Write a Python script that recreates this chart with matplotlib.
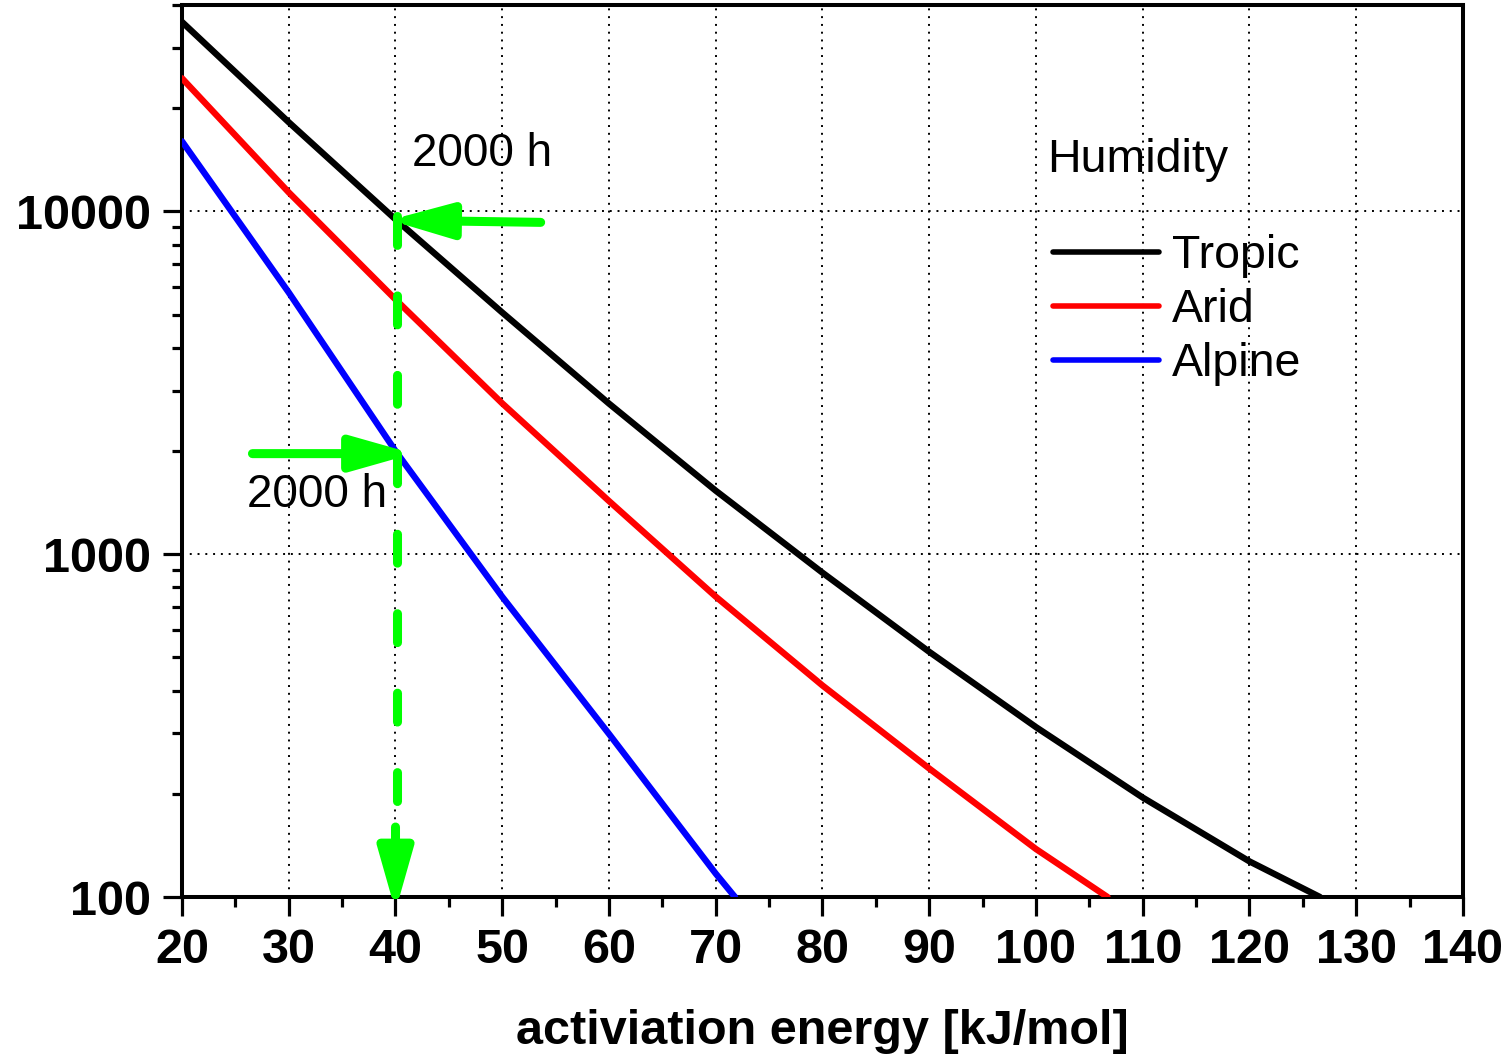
import matplotlib
matplotlib.use("Agg")
import matplotlib.pyplot as plt
from matplotlib.patches import FancyArrowPatch, ArrowStyle
from matplotlib.ticker import LogLocator, MultipleLocator, NullFormatter

plt.rcParams["font.family"] = ["Liberation Sans", "DejaVu Sans"]

# Lifetime [h] versus activation energy [kJ/mol] for three climates
tropic_energy = [20, 30, 40, 50, 60, 70, 80, 90, 100, 110, 120, 126.6]
tropic_hours = [35700, 18200, 9480, 5070, 2750, 1532, 883, 519, 313, 195, 127, 100]

arid_energy = [20, 30, 40, 50, 60, 70, 80, 90, 100, 106.7]
arid_hours = [24450, 11360, 5535, 2754, 1429, 752, 414, 237, 138, 100]

alpine_energy = [20, 30, 40, 50, 60, 70, 71.8]
alpine_hours = [16010, 5800, 2000, 751, 299, 117, 100]

series_names = ["Tropic", "Arid", "Alpine"]
series_colors = ["#000000", "#ff0000", "#0000ff"]

x_ticks = [20, 30, 40, 50, 60, 70, 80, 90, 100, 110, 120, 130, 140]
y_ticks = [100, 1000, 10000]
y_tick_labels = ["100", "1000", "10000"]

legend_title = "Humidity"
x_label = "activiation energy [kJ/mol]"
note_text = "2000 h"
green = "#00ff00"

fig = plt.figure(figsize=(15.1, 10.6), dpi=100)
ax = fig.add_axes([0.12053, 0.15377, 0.84834, 0.84151])

for xs, ys, name, col in zip(
    [tropic_energy, arid_energy, alpine_energy],
    [tropic_hours, arid_hours, alpine_hours],
    series_names, series_colors,
):
    ax.plot(xs, ys, color=col, lw=4.6, label=name, solid_capstyle="round",
            solid_joinstyle="round", zorder=3)

ax.set_yscale("log")
ax.set_xlim(20, 140)
ax.set_ylim(100, 40000)

ax.set_xticks(x_ticks, [str(t) for t in x_ticks], fontsize=35, fontweight="bold")
ax.set_yticks(y_ticks, y_tick_labels, fontsize=35, fontweight="bold")
ax.xaxis.set_minor_locator(MultipleLocator(5))
ax.yaxis.set_minor_locator(LogLocator(base=10, subs=range(2, 10)))
ax.yaxis.set_minor_formatter(NullFormatter())

ax.tick_params(which="major", direction="out", length=13.5, width=2.3, pad=9,
               top=False, right=False)
ax.tick_params(which="minor", direction="out", length=7.5, width=2.3,
               top=False, right=False)
for sp in ax.spines.values():
    sp.set_linewidth(2.9)

ax.grid(True, which="major", color="black", linestyle=(0, (1, 3)), linewidth=1.4)
ax.set_axisbelow(True)

ax.set_xlabel(x_label, fontsize=35, fontweight="bold", labelpad=26)

# Legend with a separate heading above it
ax.text(0.6753, 0.8128, legend_title, transform=ax.transAxes, fontsize=33.5,
        ha="left", va="baseline")
leg = ax.legend(loc="upper left", bbox_to_anchor=(0.6803, 0.7433), frameon=False,
                fontsize=33.5, borderpad=0, borderaxespad=0, handlelength=2.26,
                handletextpad=0.29, labelspacing=0.22)
for h in leg.get_lines():
    h.set_linewidth(4.0)
    h.set_solid_capstyle("round")

# Green guide arrows marking the 2000 h reading at 40 kJ/mol
arrow_lw = 6.5
head = ArrowStyle("-|>", head_length=37, head_width=10.5)
arrow_kw = dict(arrowstyle=head, mutation_scale=1, lw=arrow_lw, color=green,
                capstyle="round", joinstyle="round", shrinkA=0, shrinkB=0,
                zorder=5)

ax.add_patch(FancyArrowPatch((53.6, 9290), (39.44, 9430), **arrow_kw))
ax.add_patch(FancyArrowPatch((26.6, 1965), (41.69, 1965), **arrow_kw))
ax.plot([40.1, 40.1], [9700, 160], color=green, lw=arrow_lw,
        dashes=(3.2, 5.6), dash_capstyle="round", zorder=5)
ax.add_patch(FancyArrowPatch((40.0, 160), (40.0, 91.0), clip_on=False, **arrow_kw))

ax.text(41.52, 13560, note_text, fontsize=33, ha="left", va="baseline", zorder=6)
ax.text(26.06, 1376, note_text, fontsize=33, ha="left", va="baseline", zorder=6)

fig.savefig("out.png", dpi=100)
